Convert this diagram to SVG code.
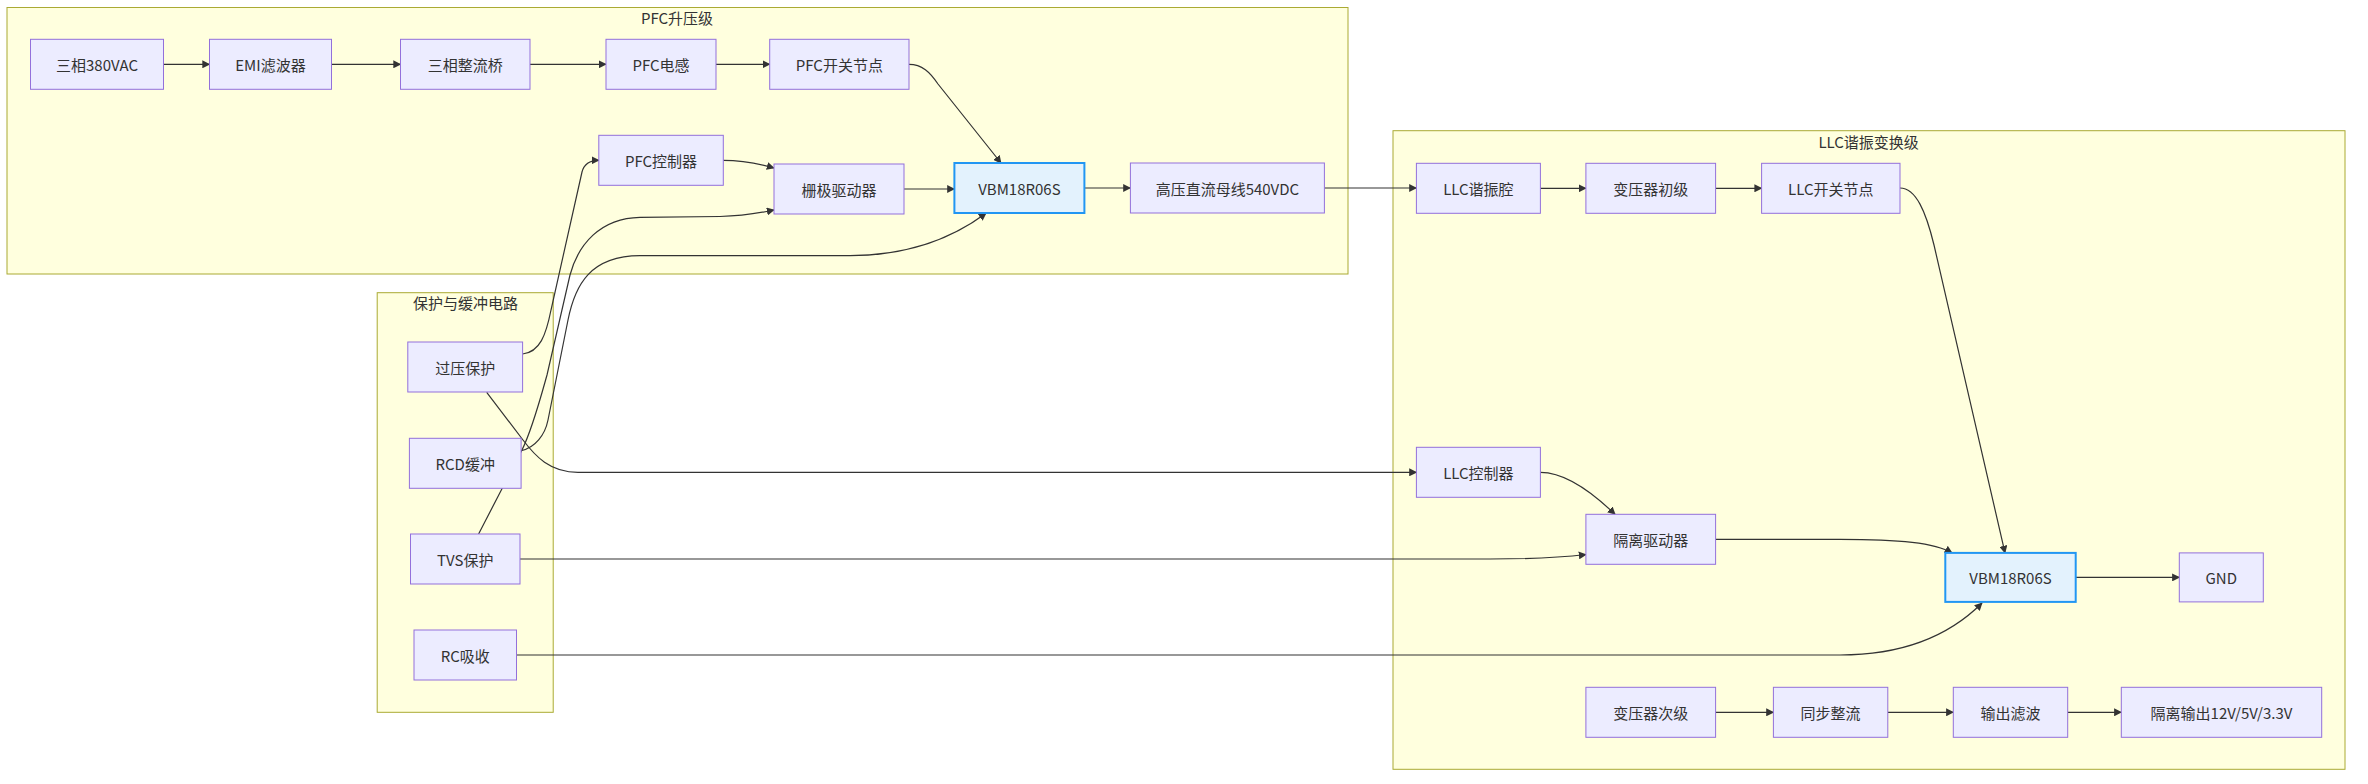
<svg xmlns="http://www.w3.org/2000/svg" width="2368" height="784" viewBox="0 0 2368 784">
<defs>
<marker id="arr" viewBox="0 0 10 10" refX="9" refY="5" markerWidth="8" markerHeight="8" markerUnits="userSpaceOnUse" orient="auto">
<path d="M0,0 L10,5 L0,10 z" fill="#333"/>
</marker>
<style>
.cl{fill:#ffffde;stroke:#aaaa33;stroke-width:1}
.nd rect{fill:#ececff;stroke:#9370db;stroke-width:1}
.hl rect{fill:#e3f2fd;stroke:#2196f3;stroke-width:2}
text{font-family:"Noto Sans CJK SC","Liberation Sans",sans-serif;font-size:15px;fill:#333;text-anchor:middle;dominant-baseline:central}
.ed path{fill:none;stroke:#333;stroke-width:1.2;marker-end:url(#arr)}
</style>
</defs>
<rect width="2368" height="784" fill="#fff"/>
<g id="clusters">
<g id="c-pfc"><rect class="cl" x="7" y="7.5" width="1341" height="266.5"/><text x="677" y="17.5">PFC升压级</text></g>
<g id="c-llc"><rect class="cl" x="1393" y="130.7" width="952" height="638.6"/><text x="1868.6" y="141.5">LLC谐振变换级</text></g>
<g id="c-prot"><rect class="cl" x="377.2" y="292.7" width="176" height="419.6"/><text x="465.6" y="302.7">保护与缓冲电路</text></g>
</g>
<g id="edges" class="ed">
<path d="M163.5,64.3 L209.5,64.3"/>
<path d="M331.5,64.3 L400.5,64.3"/>
<path d="M530,64.3 L606,64.3"/>
<path d="M716,64.3 L769.7,64.3"/>
<path d="M909,64.3 C922,64.3 930,72 938,84 L1001,163"/>
<path d="M723.3,160.3 C745,160.3 760,164 774,168"/>
<path d="M904,189 L954.4,189"/>
<path d="M1084.5,188 L1130.4,188"/>
<path d="M1324.4,188 L1416.4,188"/>
<path d="M1540.4,188.3 L1585.9,188.3"/>
<path d="M1715.6,188.3 L1761.6,188.3"/>
<path d="M1900,188 C1916,188 1926,212 1934,245 L2005,552.9"/>
<path d="M1540.4,472.3 C1565,472.3 1592,492 1615,514.3"/>
<path d="M1715.6,539.3 L1840,539.3 C1900,539.3 1935,543 1952,552.9"/>
<path d="M2075.7,577.4 L2179.3,577.4"/>
<path d="M1715.6,712.3 L1773.4,712.3"/>
<path d="M1887.8,712.3 L1953.3,712.3"/>
<path d="M2067.7,712.3 L2121.3,712.3"/>
<path d="M522.6,354 C540,352 546,335 551,310 L582,172 C584,164 590,160.3 598.8,160.3"/>
<path d="M486.7,392.3 L523,440 C535,456 550,472.3 578,472.3 L1416.4,472.3"/>
<path d="M521.1,450.7 C535,448 545,435 548,420 L568,320 C575,285 590,256 640,255.7 L850,255.7 C905,255.7 950,240 986,213.3"/>
<path d="M478.6,534 L522,450 C532,430 540,400 547,375 L570,275 C578,245 600,218 640,217.3 L720,216.5 C745,216 760,213 774,210"/>
<path d="M520,559 L1490,559 C1540,559 1565,557 1586,554.5"/>
<path d="M516.5,655 L1840,655 C1905,655 1950,635 1982,603"/>
</g>
<g id="n-ac" class="nd"><rect x="30.5" y="39.3" width="133" height="50"/><text x="97" y="64.3">三相380VAC</text></g>
<g id="n-emi" class="nd"><rect x="209.5" y="39.3" width="122" height="50"/><text x="270.5" y="64.3">EMI滤波器</text></g>
<g id="n-bridge" class="nd"><rect x="400.5" y="39.3" width="129.5" height="50"/><text x="465.2" y="64.3">三相整流桥</text></g>
<g id="n-pfcl" class="nd"><rect x="606" y="39.3" width="110" height="50"/><text x="661" y="64.3">PFC电感</text></g>
<g id="n-pfcsw" class="nd"><rect x="769.7" y="39.3" width="139.3" height="50"/><text x="839.3" y="64.3">PFC开关节点</text></g>
<g id="n-pfcctl" class="nd"><rect x="598.8" y="135.3" width="124.5" height="50"/><text x="661" y="160.3">PFC控制器</text></g>
<g id="n-gate" class="nd"><rect x="774" y="164" width="130" height="50"/><text x="839" y="189">栅极驱动器</text></g>
<g id="n-vbm1" class="hl"><rect x="954.4" y="163" width="130" height="50"/><text x="1019.4" y="188">VBM18R06S</text></g>
<g id="n-bus" class="nd"><rect x="1130.4" y="163" width="194" height="50"/><text x="1227.4" y="188">高压直流母线540VDC</text></g>
<g id="n-llcres" class="nd"><rect x="1416.4" y="163.3" width="124" height="50"/><text x="1478.4" y="188.3">LLC谐振腔</text></g>
<g id="n-tp" class="nd"><rect x="1585.9" y="163.3" width="129.7" height="50"/><text x="1650.7" y="188.3">变压器初级</text></g>
<g id="n-llcsw" class="nd"><rect x="1761.6" y="163.3" width="138.4" height="50"/><text x="1830.8" y="188.3">LLC开关节点</text></g>
<g id="n-llcctl" class="nd"><rect x="1416.4" y="447.3" width="124" height="50"/><text x="1478.4" y="472.3">LLC控制器</text></g>
<g id="n-iso" class="nd"><rect x="1585.9" y="514.3" width="129.7" height="50"/><text x="1650.7" y="539.3">隔离驱动器</text></g>
<g id="n-vbm2" class="hl"><rect x="1945.3" y="552.9" width="130.4" height="49"/><text x="2010.5" y="577.4">VBM18R06S</text></g>
<g id="n-gnd" class="nd"><rect x="2179.3" y="552.9" width="84" height="49"/><text x="2221.3" y="577.4">GND</text></g>
<g id="n-ts" class="nd"><rect x="1585.9" y="687.3" width="129.7" height="50"/><text x="1650.7" y="712.3">变压器次级</text></g>
<g id="n-sr" class="nd"><rect x="1773.4" y="687.3" width="114.4" height="50"/><text x="1830.6" y="712.3">同步整流</text></g>
<g id="n-of" class="nd"><rect x="1953.3" y="687.3" width="114.4" height="50"/><text x="2010.5" y="712.3">输出滤波</text></g>
<g id="n-out" class="nd"><rect x="2121.3" y="687.3" width="200.4" height="50"/><text x="2221.5" y="712.3">隔离输出12V/5V/3.3V</text></g>
<g id="n-ovp" class="nd"><rect x="407.8" y="342" width="114.8" height="50"/><text x="465.2" y="367">过压保护</text></g>
<g id="n-rcd" class="nd"><rect x="409.4" y="438.3" width="111.7" height="50"/><text x="465.2" y="463.3">RCD缓冲</text></g>
<g id="n-tvs" class="nd"><rect x="410.5" y="534" width="109.5" height="50"/><text x="465.2" y="559">TVS保护</text></g>
<g id="n-rc" class="nd"><rect x="414" y="630" width="102.5" height="50"/><text x="465.2" y="655">RC吸收</text></g>
</svg>
